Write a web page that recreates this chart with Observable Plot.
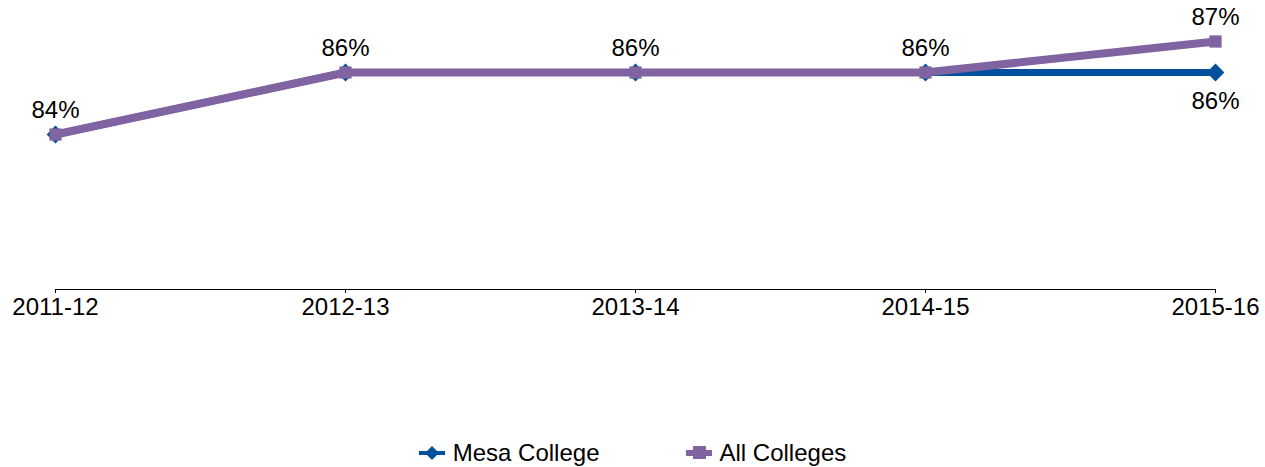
<!DOCTYPE html>
<html>
<head>
<meta charset="utf-8">
<script src="https://cdn.jsdelivr.net/npm/d3@7"></script>
<script src="https://cdn.jsdelivr.net/npm/@observablehq/plot@0.6"></script>
<style>
  html, body { margin: 0; padding: 0; background: #fff; }
  body { width: 1265px; height: 467px; overflow: hidden; font-family: "Liberation Sans", Arial, sans-serif; }
  #legend { display: flex; justify-content: center; align-items: center; height: 47px; font-size: 24px; color: #000; margin-top: 19px; }
  .item { display: flex; align-items: center; margin: 0 43px; }
  .item svg { margin-right: 8px; }
</style>
</head>
<body>
<div id="chart"></div>
<div id="legend"></div>
<script>
const years = ["2011-12", "2012-13", "2013-14", "2014-15", "2015-16"];
const mesa = [84, 86, 86, 86, 86];
const allColleges = [84, 86, 86, 86, 87];
const seriesNames = ["Mesa College", "All Colleges"];
const colors = ["#00509E", "#8064A2"];

const mesaData = years.map((y, i) => ({year: y, value: mesa[i]}));
const allData = years.map((y, i) => ({year: y, value: allColleges[i]}));
// labels: All Colleges above each point; Mesa label below where it differs
const aboveLabels = allData;
const belowLabels = mesaData.filter((d, i) => mesa[i] !== allColleges[i]);

const chart = Plot.plot({
  width: 1265,
  height: 410,
  marginLeft: 55,
  marginRight: 50,
  marginTop: 10,
  marginBottom: 121,
  style: {fontFamily: "Liberation Sans, Arial, sans-serif", fontSize: "24px", color: "#000", background: "#fff"},
  x: {type: "point", domain: years, padding: 0, axis: null},
  y: {domain: [79, 88], axis: null},
  marks: [
    Plot.ruleY([79], {stroke: "#000", strokeWidth: 1}),
    Plot.axisX({domain: years, tickSize: 4, tickPadding: 4, fontSize: 24, stroke: "#000", label: null}),
    Plot.line(mesaData, {x: "year", y: "value", stroke: colors[0], strokeWidth: 7}),
    Plot.dot(mesaData, {x: "year", y: "value", symbol: "diamond2", r: 8, fill: colors[0], stroke: "none"}),
    Plot.line(allData, {x: "year", y: "value", stroke: colors[1], strokeWidth: 8}),
    Plot.dot(allData, {x: "year", y: "value", symbol: "square", r: 6.9, fill: colors[1], stroke: "none"}),
    Plot.text(aboveLabels, {x: "year", y: "value", text: d => d.value + "%", dy: -24, fontSize: 24, fill: "#000"}),
    Plot.text(belowLabels, {x: "year", y: "value", text: d => d.value + "%", dy: 29, fontSize: 24, fill: "#000"})
  ]
});
document.getElementById("chart").appendChild(chart);

const legend = document.getElementById("legend");
seriesNames.forEach((name, i) => {
  const item = document.createElement("div");
  item.className = "item";
  const sym = i === 0
    ? `<svg width="26" height="20"><line x1="0" y1="10" x2="26" y2="10" stroke="${colors[0]}" stroke-width="4"/><path d="M13 3 L20 10 L13 17 L6 10 Z" fill="${colors[0]}"/></svg>`
    : `<svg width="26" height="20"><line x1="0" y1="10" x2="26" y2="10" stroke="${colors[1]}" stroke-width="6"/><rect x="7" y="3" width="13" height="13" fill="${colors[1]}"/></svg>`;
  item.innerHTML = sym + `<span>${name}</span>`;
  legend.appendChild(item);
});
</script>
</body>
</html>
